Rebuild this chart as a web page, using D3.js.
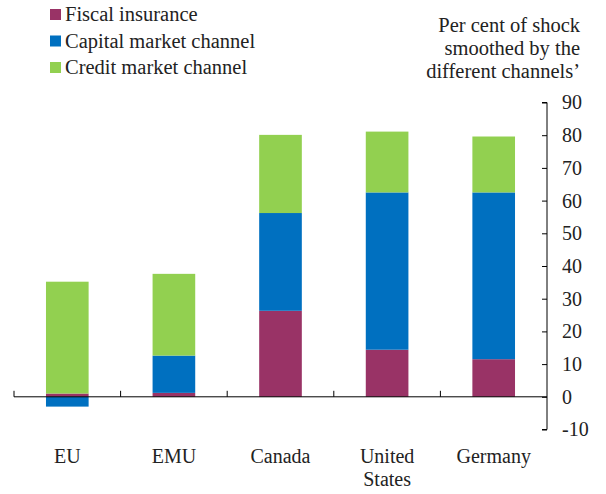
<!DOCTYPE html>
<html>
<head>
<meta charset="utf-8">
<script src="https://cdn.jsdelivr.net/npm/d3@7"></script>
<style>
  body { margin: 0; background: #fff; }
</style>
</head>
<body>
<svg id="chart" width="606" height="494"></svg>
<script>
// data
const countries = ['EU', 'EMU', 'Canada', 'United States', 'Germany'];
const fiscal = [1, 1.2, 26.3, 14.4, 11.5];
const capital = [-3, 11.4, 29.9, 48.1, 51];
const credit = [34.2, 25, 23.9, 18.6, 17.1];
const seriesNames = ['Fiscal insurance', 'Capital market channel', 'Credit market channel'];
const colors = ['#993366', '#0070C0', '#92D050'];
const yTicks = [-10, 0, 10, 20, 30, 40, 50, 60, 70, 80, 90];

const serif = 'Liberation Serif';
const svg = d3.select('#chart').attr('font-family', serif);

const x = d3.scaleBand().domain(countries).range([14, 547]).paddingInner(0.6).paddingOuter(0.3);
const band = d3.scaleBand().domain(countries).range([14, 547]);
const y = d3.scaleLinear().domain([-10, 90]).range([429.5, 102.5]);

const rows = countries.map((c, i) => ({
  country: c,
  'Fiscal insurance': fiscal[i],
  'Capital market channel': capital[i],
  'Credit market channel': credit[i]
}));

const stack = d3.stack().keys(seriesNames).offset(d3.stackOffsetDiverging);
const layers = stack(rows);

svg.append('g')
  .selectAll('g')
  .data(layers)
  .enter()
  .append('g')
  .attr('fill', (d, i) => colors[i])
  .selectAll('rect')
  .data(d => d)
  .enter()
  .append('rect')
  .attr('x', d => x(d.data.country))
  .attr('width', x.bandwidth())
  .attr('y', d => y(Math.max(d[0], d[1])))
  .attr('height', d => Math.abs(y(d[0]) - y(d[1])));

// y axis on the right, ticks pointing left
const yAxis = svg.append('g')
  .attr('transform', 'translate(547,0)')
  .call(d3.axisRight(y).tickValues(yTicks).tickFormat(d => String(d)).tickSize(-5).tickPadding(15));
yAxis.attr('font-family', serif).attr('font-size', 20);
yAxis.select('.domain').attr('d', `M-5,${y(90)}H0V${y(-10)}H-5`).attr('stroke', '#000');
yAxis.selectAll('.tick line').attr('stroke', '#000');
yAxis.selectAll('.tick text')
  .attr('font-family', serif)
  .attr('fill', '#222')
  .attr('text-anchor', 'start');

// x axis at zero with category divider ticks
const y0 = y(0);
const xAxis = svg.append('g');
xAxis.append('line')
  .attr('x1', 14).attr('x2', 547)
  .attr('y1', y0).attr('y2', y0)
  .attr('stroke', '#000');
xAxis.selectAll('.div')
  .data(countries)
  .enter()
  .append('line')
  .attr('x1', d => band(d)).attr('x2', d => band(d))
  .attr('y1', y0).attr('y2', y0 - 6)
  .attr('stroke', '#000');

const labels = xAxis.selectAll('.lab')
  .data(countries)
  .enter()
  .append('text')
  .attr('x', d => band(d) + band.bandwidth() / 2)
  .attr('y', 463)
  .attr('text-anchor', 'middle')
  .attr('font-family', serif)
  .attr('font-size', 20)
  .attr('fill', '#222');
labels.each(function (d) {
  const words = d === 'United States' ? ['United', 'States'] : [d];
  const t = d3.select(this);
  words.forEach((w, i) => {
    t.append('tspan')
      .attr('x', band(d) + band.bandwidth() / 2)
      .attr('dy', i === 0 ? 0 : 23)
      .text(w);
  });
});

// legend
const legend = svg.append('g');
seriesNames.forEach((name, i) => {
  const g = legend.append('g').attr('transform', `translate(50,${9 + i * 26.5})`);
  g.append('rect').attr('width', 11).attr('height', 11).attr('fill', colors[i]);
  g.append('text')
    .attr('x', 15).attr('y', 12)
    .attr('font-family', serif)
    .attr('font-size', 20.5)
    .attr('fill', '#222')
    .text(name);
});

// axis title
const title = ['Per cent of shock', 'smoothed by the', 'different channels\u2019'];
svg.append('text')
  .attr('text-anchor', 'end')
  .attr('font-family', serif)
  .attr('font-size', 20.5)
  .attr('fill', '#222')
  .selectAll('tspan')
  .data(title)
  .enter()
  .append('tspan')
  .attr('x', 580)
  .attr('y', (d, i) => 32 + i * 23)
  .text(d => d);
</script>
</body>
</html>
